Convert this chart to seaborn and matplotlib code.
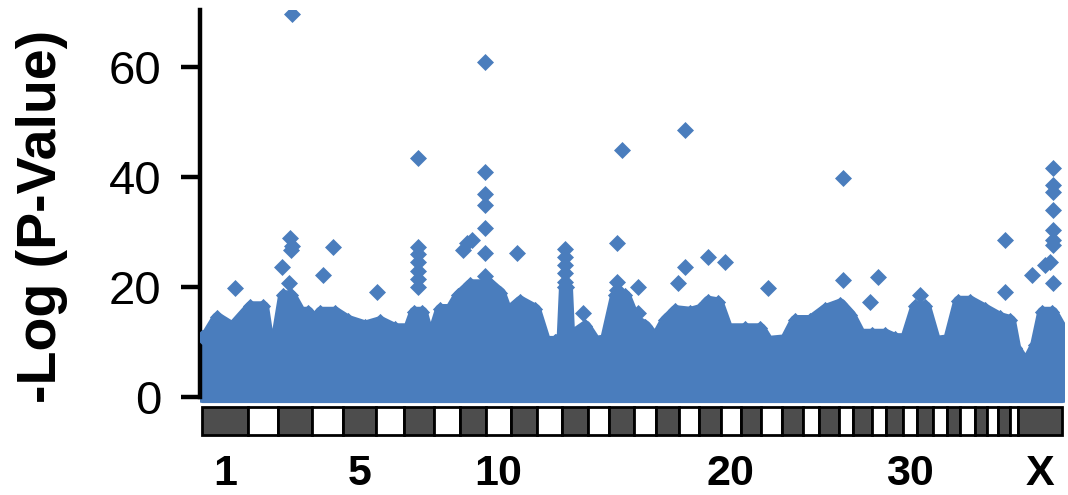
import matplotlib
matplotlib.use("Agg")
import matplotlib.pyplot as plt
import seaborn as sns
import numpy as np
import pandas as pd

# ---------------- data ----------------
chrom_names = [str(i) for i in range(1, 39)] + ["X"]
# chromosome lengths (Mb)
chrom_len = [123, 81, 93, 84, 89, 76, 81, 70, 70, 68, 70, 69, 69, 57, 68, 58, 63,
             54, 59, 54, 54, 58, 57, 42, 54, 38, 51, 38, 46, 39, 42, 38, 35, 41,
             32, 30, 32, 22, 119]
tick_chroms = ["1", "5", "10", "20", "30", "X"]

# upper envelope of the dense cloud of SNPs (cumulative genome position, Mb)
band_pos = [0, 13, 40, 81, 130, 165, 178, 200, 219, 240, 265, 286, 300, 319, 359,
            394, 440, 481, 521, 557, 573, 594, 616, 643, 670, 692, 724, 778, 805,
            824, 859, 900, 927, 954, 972, 978, 986, 992, 1035, 1062, 1089, 1116,
            1143, 1170, 1197, 1224, 1251, 1278, 1319, 1346, 1367, 1394, 1419, 1467,
            1508, 1529, 1575, 1602, 1643, 1683, 1724, 1751, 1778, 1810, 1845, 1872,
            1900, 1927, 1954, 1981, 2016, 2043, 2075, 2116, 2156, 2183, 2197, 2216,
            2232, 2251, 2270, 2297, 2318, 2324]
band_top = [11, 11.5, 14.5, 12.8, 16.5, 16.5, 10.7, 10.7, 18.5, 18.5, 15.5, 15.5,
            11.4, 15.5, 15.5, 14, 13, 13.8, 12.5, 12.5, 15.5, 15.5, 10.2, 16, 16,
            18.5, 20.5, 20.5, 19, 15.5, 17.5, 16, 10.2, 10.2, 11, 20, 20, 11, 13,
            10.2, 10.5, 18.5, 18.5, 14, 13, 10.7, 14, 15.8, 15.5, 16, 17.5, 17.2,
            12.5, 12.5, 12.5, 10.2, 10.5, 14, 14, 16, 17, 15, 11.5, 11.5, 11.5,
            10.7, 10.7, 16.5, 16.5, 10.2, 10.5, 17.5, 17.5, 16, 14.5, 14, 9, 7, 7,
            9.5, 15.5, 15.5, 13, 9]

# individually visible SNPs above the cloud (cumulative position Mb, -log10 p)
hit_pos = [243, 765, 584, 1135, 1305, 1732, 2299,
           238, 243, 240, 216, 235,
           354, 327, 89, 473,
           584, 584, 584, 584, 584, 584,
           705, 730, 716,
           765, 765, 765, 765, 765, 765,
           851, 981, 981, 981, 981, 981, 1029,
           1121, 1121, 1121, 1178, 1178,
           1305, 1286, 1367, 1413, 1529,
           1732, 1827, 1805, 1940, 2170, 2170, 2243,
           2299, 2299, 2299, 2299, 2299, 2299, 2291, 2278, 2299]
hit_val = [69.6, 60.9, 43.4, 44.9, 48.5, 39.8, 41.6,
           28.9, 27.5, 26.8, 23.6, 20.7,
           27.3, 22.2, 19.8, 19.1,
           27.3, 26.0, 24.5, 23.0, 21.5, 20.0,
           26.7, 28.5, 28.0,
           40.9, 37.0, 35.0, 30.7, 26.2, 22.0,
           26.2, 27.0, 25.5, 24.0, 22.5, 21.0, 15.2,
           28.0, 21.0, 19.5, 20.0, 15.2,
           23.6, 20.7, 25.5, 24.5, 19.8,
           21.3, 21.8, 17.3, 18.5, 28.5, 19.1, 22.2,
           38.5, 37.3, 34.0, 30.4, 28.5, 27.6, 24.5, 24.0, 20.7]

# ---------------- style ----------------
BLUE = "#4a7dbd"
DARK = "#4d4d4d"
sns.set_theme(style="white")
plt.rcParams["font.family"] = ["Liberation Sans", "DejaVu Sans"]

W, H = 1068, 495
fig = plt.figure(figsize=(W / 100, H / 100), dpi=100)
ax = fig.add_axes([200 / W, (H - 437) / H, 864 / W, 427 / H])

# dense cloud
ax.fill_between(band_pos, 0, band_top, color=BLUE, edgecolor=BLUE,
                linewidth=8, joinstyle="round", zorder=2)
band_df = pd.DataFrame({"pos": band_pos, "val": band_top})
sns.scatterplot(data=band_df, x="pos", y="val", marker="D", s=60, color=BLUE,
                linewidth=0, ax=ax, zorder=3)

# outlier SNPs
hit_df = pd.DataFrame({"pos": hit_pos, "val": hit_val})
sns.scatterplot(data=hit_df, x="pos", y="val", marker="D", s=75, color=BLUE,
                linewidth=0, ax=ax, zorder=3)

# chromosome ideogram bar
starts = np.concatenate([[0], np.cumsum(chrom_len)[:-1]])
colors = [DARK if i % 2 == 0 else "white" for i in range(len(chrom_len))]
colors[-1] = DARK
ax.bar(starts, height=5.1, width=chrom_len, bottom=-6.9, align="edge",
       color=colors, edgecolor="black", linewidth=2.0, zorder=4, clip_on=False)

# axes
ax.set_xlim(-5.4, 2329)
ax.set_ylim(-7.27, 70.4)
for s in ["top", "right", "bottom"]:
    ax.spines[s].set_visible(False)
ax.spines["left"].set_bounds(0, 70.4)
ax.spines["left"].set_linewidth(3.2)
ax.spines["left"].set_color("black")

ax.set_yticks([0, 20, 40, 60])
ax.tick_params(axis="y", direction="out", length=14, width=3.2, pad=14,
               labelsize=34, colors="black", left=True)

centers = starts + np.array(chrom_len) / 2
tick_idx = [chrom_names.index(c) for c in tick_chroms]
ax.set_xticks(centers[tick_idx])
ax.set_xticklabels(tick_chroms, fontweight="bold", fontsize=31)
ax.tick_params(axis="x", length=0, pad=12, colors="black")
ax.set_xlabel("")

ax.set_ylabel("-Log (P-Value)", fontsize=40, fontweight="bold", color="black")
ax.yaxis.set_label_coords(-0.1528, 0.5176)

fig.savefig("out.png", dpi=100)
